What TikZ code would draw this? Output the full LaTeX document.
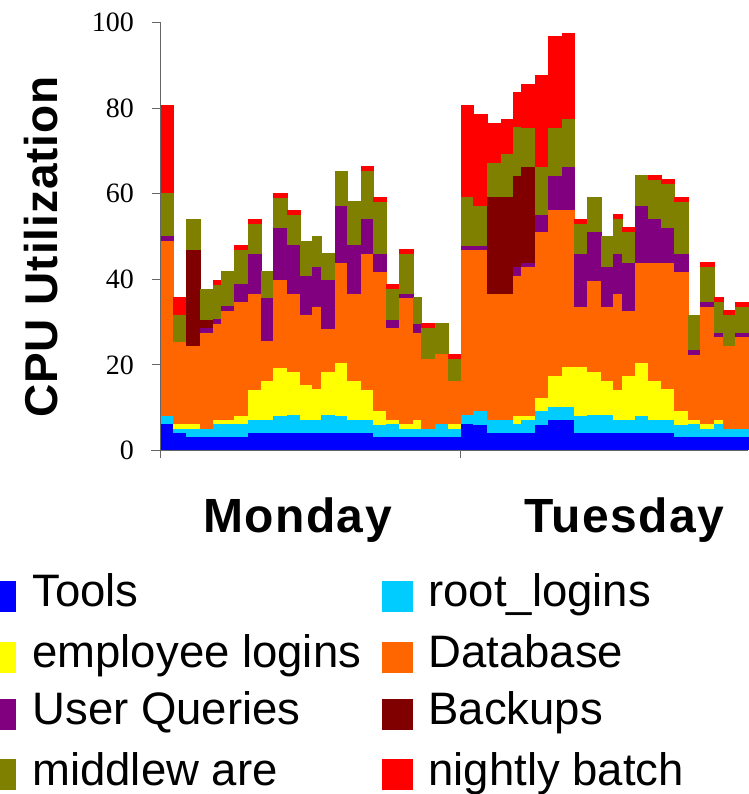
\documentclass[tikz,border=0pt]{standalone}
\usepackage{fontspec}
\setmainfont{Liberation Sans}
\newfontfamily\timesfont{Liberation Serif}
\newfontfamily\widesans[LetterSpace=3]{Liberation Sans}
\newfontfamily\labelsans[LetterSpace=2]{Liberation Sans}
\usetikzlibrary{positioning}

\definecolor{toolsblue}{HTML}{0000FF}
\definecolor{rootcyan}{HTML}{00CCFF}
\definecolor{emplyellow}{HTML}{FFFF00}
\definecolor{dborange}{HTML}{FF6600}
\definecolor{querypurple}{HTML}{800080}
\definecolor{backupmaroon}{HTML}{800000}
\definecolor{midolive}{HTML}{808000}
\definecolor{batchred}{HTML}{FF0000}

\begin{document}
\begin{tikzpicture}[x=1pt, y=1pt,
    axis/.style={draw=black!60, line width=1pt},
    ticklabel/.style={anchor=east, inner sep=0pt, font=\timesfont\fontsize{28}{28}\selectfont},
    keybox/.style={rectangle, minimum size=31pt, inner sep=0pt},
    keytext/.style={anchor=west, inner sep=0pt, text height=33pt, text depth=12pt, font=\fontsize{45.5}{46}\selectfont},
    daylabel/.style={anchor=base west, inner sep=0pt, font=\widesans\bfseries\fontsize{48}{48}\selectfont}]

\useasboundingbox (0,0) rectangle (748,794);

% stacked columns: left/right edge, then the top of each layer
\begin{scope}[shift={(0,343.5)}, yscale=4.28]
\foreach \xl/\xr/\ta/\tb/\tc/\td/\te/\tf/\tg/\th in {
    160/173/6.2/8.1/8.1/49.0/50.0/50.0/60.2/80.7,
    173/186/4.1/5.0/6.2/25.4/25.4/25.4/31.7/35.9,
    186/200/3.2/5.0/6.2/24.5/24.5/46.8/54.1/54.1,
    200/213/3.2/5.0/5.0/27.5/28.6/30.5/37.7/37.7,
    213/221/3.2/6.2/7.1/29.6/30.7/30.7/38.7/39.8,
    221/234/3.2/6.2/7.1/32.6/33.8/33.8/41.9/41.9,
    234/248/3.2/6.2/8.1/34.7/38.9/38.9/46.8/48.0,
    248/261/4.1/7.1/14.1/36.6/45.9/45.9/52.9/54.1,
    261/273/4.1/7.1/16.2/25.6/35.6/35.6/41.9/41.9,
    273/287/4.1/8.1/19.3/39.8/52.0/52.0/59.0/60.2,
    287/300/4.1/8.3/18.3/36.6/48.0/48.0/55.0/56.2,
    300/312/4.1/7.1/15.3/31.7/40.8/40.8/49.0/49.0,
    312/321/4.1/7.1/14.4/33.5/42.9/42.9/50.1/50.1,
    321/335/4.1/8.3/18.3/28.4/39.8/39.8/46.1/46.1,
    335/347/4.1/8.1/20.4/43.8/57.1/57.1/65.3/65.3,
    347/361/4.1/7.1/16.2/36.6/48.0/48.0/58.3/58.3,
    361/373/4.1/7.1/14.1/45.9/54.1/54.1/65.3/66.5,
    373/386/3.2/6.0/9.2/41.7/45.9/45.9/58.1/59.2,
    386/399/3.2/6.2/7.1/28.6/30.5/30.5/37.7/38.9,
    399/413/3.2/5.0/6.2/35.6/36.6/36.6/45.9/47.1,
    413/421/3.2/5.0/7.1/27.5/29.6/29.6/35.9/35.9,
    421/435/3.2/5.0/5.0/21.4/21.4/21.4/28.6/29.8,
    435/448/3.2/6.2/6.2/22.5/22.5/22.5/29.8/29.8,
    448/461/3.2/5.0/6.2/16.2/16.2/16.2/21.4/22.5,
    461/473/6.2/8.3/8.3/46.8/47.8/47.8/59.2/80.7,
    473/487/6.0/9.2/9.2/46.8/47.8/47.8/57.1/78.6,
    487/501/4.1/7.1/7.1/36.6/36.6/59.2/67.2/76.5,
    501/513/4.1/7.1/7.1/36.6/36.6/59.2/69.3/77.5,
    513/521/4.1/6.2/8.1/40.8/42.9/64.1/75.6/83.8,
    521/535/4.1/7.1/8.1/42.9/43.8/66.2/75.4/85.6,
    535/548/6.0/9.2/12.3/51.1/55.0/55.0/66.2/87.7,
    548/562/7.1/10.2/17.4/56.2/64.1/64.1/75.4/96.8,
    562/574/7.1/10.2/19.5/56.2/66.2/66.2/77.5/97.5,
    574/587/4.1/8.1/19.5/33.5/45.9/45.9/52.9/54.1,
    587/601/4.1/8.3/18.3/39.6/51.1/51.1/59.2/59.2,
    601/613/4.1/8.3/16.2/33.5/42.9/42.9/50.1/50.1,
    613/622/4.1/7.1/14.1/36.6/45.9/45.9/54.1/55.3,
    622/635/4.1/7.1/17.4/32.6/43.8/43.8/51.1/52.2,
    635/648/4.1/8.1/20.4/43.8/57.1/57.1/64.4/64.4,
    648/661/4.1/7.1/16.2/43.8/54.1/54.1/63.2/64.4,
    661/674/4.1/7.1/14.4/43.8/52.0/52.0/62.3/63.4,
    674/688/3.2/6.0/9.2/41.7/45.9/45.9/58.1/59.2,
    688/700/3.2/6.2/7.1/22.3/23.5/23.5/31.7/31.7,
    700/714/3.2/5.0/6.2/33.5/34.7/34.7/42.9/44.0,
    714/723/3.2/6.2/7.1/26.5/27.5/27.5/34.7/35.9,
    723/735/3.2/5.0/5.0/24.4/24.4/24.4/31.7/32.8,
    735/748/3.2/5.0/5.0/26.5/27.5/27.5/33.5/34.7}{
  \fill[batchred] (\xl,0) rectangle (\xr+0.5,\th);
  \fill[midolive] (\xl,0) rectangle (\xr+0.5,\tg);
  \fill[backupmaroon] (\xl,0) rectangle (\xr+0.5,\tf);
  \fill[querypurple] (\xl,0) rectangle (\xr+0.5,\te);
  \fill[dborange] (\xl,0) rectangle (\xr+0.5,\td);
  \fill[emplyellow] (\xl,0) rectangle (\xr+0.5,\tc);
  \fill[rootcyan] (\xl,0) rectangle (\xr+0.5,\tb);
  \fill[toolsblue] (\xl,0) rectangle (\xr+0.5,\ta);
}
\end{scope}

% axes
\draw[axis] (160,336) -- (160,771.5);
\draw[axis] (151,343.5) -- (748,343.5);
\draw[axis] (460.5,343.5) -- (460.5,336);
\foreach \v in {0,20,...,100} {
  \draw[axis] (152,343.5+4.28*\v) -- (160,343.5+4.28*\v);
  \node[ticklabel] (ytick\v) at (134,343.5+4.28*\v) {\v};
}

\node[rotate=90, inner sep=0pt, font=\labelsans\bfseries\fontsize{46}{46}\selectfont] (ylabel) at (41,547) {CPU Utilization};

\node[daylabel] (monday) at (203,261) {Monday};
\node[daylabel] (tuesday) at (524,261) {Tuesday};

% legend
\node[keybox, fill=toolsblue] (kTools) at (0.5,197.5) {};
\node[keytext, right=16pt of kTools] (tTools) {Tools};
\node[keybox, fill=emplyellow] (kEmpl) at (0.5,136.5) {};
\node[keytext, right=16pt of kEmpl] (tEmpl) {employee logins};
\node[keybox, fill=querypurple] (kQuery) at (0.5,79.5) {};
\node[keytext, right=16pt of kQuery] (tQuery) {User Queries};
\node[keybox, fill=midolive] (kMid) at (0.5,19) {};
\node[keytext, right=16pt of kMid] (tMid) {middlew are};

\node[keybox, fill=rootcyan] (kRoot) at (397.5,197.5) {};
\node[keytext, right=15pt of kRoot] (tRoot) {root\_logins};
\node[keybox, fill=dborange] (kDb) at (397.5,136.5) {};
\node[keytext, right=15pt of kDb] (tDb) {Database};
\node[keybox, fill=backupmaroon] (kBackup) at (397.5,79.5) {};
\node[keytext, right=15pt of kBackup] (tBackup) {Backups};
\node[keybox, fill=batchred] (kBatch) at (397.5,19) {};
\node[keytext, right=15pt of kBatch] (tBatch) {nightly batch};
\end{tikzpicture}
\end{document}
